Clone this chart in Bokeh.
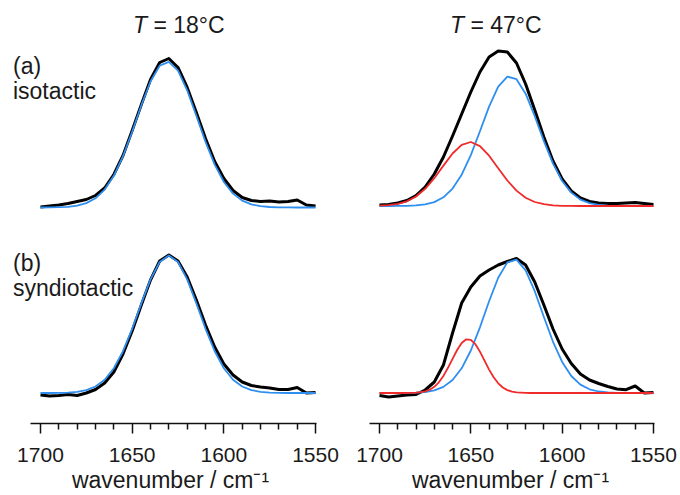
from bokeh.plotting import figure
from bokeh.models import Range1d, FixedTicker, Label, LinearAxis
from bokeh.layouts import gridplot
from bokeh.embed import file_html
from bokeh.resources import INLINE

# ---------------- data (absorbance, arbitrary units) ----------------
wavenumber = [1700, 1695, 1690, 1685, 1680, 1675, 1670, 1665, 1660, 1655, 1650,
              1645, 1640, 1635, 1630, 1625, 1620, 1615, 1610, 1605, 1600, 1595,
              1590, 1585, 1580, 1575, 1570, 1565, 1560, 1555, 1550]

# finer sampling used for the narrow high-frequency component in (b) at 47 C
wavenumber_fine = [1700, 1697.5, 1695, 1692.5, 1690, 1687.5, 1685, 1682.5, 1680, 1677.5,
                   1675, 1672.5, 1670, 1667.5, 1665, 1662.5, 1660, 1657.5, 1655, 1652.5,
                   1650, 1647.5, 1645, 1642.5, 1640, 1637.5, 1635, 1632.5, 1630, 1627.5,
                   1625, 1622.5, 1620, 1617.5, 1615, 1610, 1600, 1590, 1580, 1570, 1560,
                   1550]

# (a) isotactic, T = 18 C
iso18_measured = [0.5, 1.5, 2.5, 4.0, 6.0, 8.0, 12.0, 19.5, 33, 52, 77, 103, 128, 145, 149,
                  140, 120, 95, 69, 46, 29, 17, 10, 7, 6, 6.5, 5.5, 6, 7.5, 2.5, 1.5]
iso18_fit = [0, 0.1, 0.3, 0.7, 1.8, 4.4, 9.2, 17.9, 31.7, 51.3, 75.8, 102.3, 126.0, 141.8,
             145.7, 136.8, 117.2, 91.8, 65.6, 42.8, 25.5, 13.9, 6.9, 3.1, 1.3, 0.5, 0.2,
             0.1, 0, 0, 0]

# (b) syndiotactic, T = 18 C
syn18_measured = [-2, -3, -2.5, -1.5, -2.5, 0, 3.5, 10, 21, 39, 62, 88, 113, 132, 138,
                  132, 116, 93, 68, 46, 29, 18, 11, 7.5, 6, 5, 3.5, 3.5, 5.5, 0, 0.5]
syn18_fit = [0, 0, 0.1, 0.4, 1.2, 2.9, 6.5, 13.3, 24.8, 41.8, 64.2, 89.6, 113.6, 131.1,
             137.5, 131.1, 113.6, 89.6, 64.2, 41.8, 24.8, 13.3, 6.5, 2.9, 1.2, 0.4, 0.1,
             0, 0, 0, 0]

# (a) isotactic, T = 47 C
iso47_measured = [1.0, 1.5, 3, 5.5, 10.5, 19, 32, 49, 70, 92, 114, 134, 149, 155, 154,
                  143, 122, 96, 69, 45, 27, 15, 8, 4.5, 3, 2.5, 2.5, 3, 3.5, 2.5, 1.5]
iso47_fit_low = [0, 0, 0.1, 0.2, 0.6, 1.6, 3.9, 8.7, 17.4, 31.3, 50.9, 74.8, 99.4, 119.3,
                 129.4, 126.8, 112.3, 89.8, 64.9, 42.4, 25.0, 13.4, 6.4, 2.8, 1.1, 0.4,
                 0.1, 0, 0, 0, 0]
iso47_fit_high = [0.3, 0.8, 2.1, 4.7, 9.5, 17.2, 27.8, 40.4, 52.5, 61.2, 64.0, 59.9, 50.3,
                  37.8, 25.5, 15.4, 8.3, 4.0, 1.8, 0.7, 0.2, 0.1, 0, 0, 0, 0, 0, 0, 0, 0, 0]

# (b) syndiotactic, T = 47 C
syn47_measured = [-2.5, -4, -3, -2, -1.5, 3, 11, 28, 60, 90, 106, 117, 123, 128, 131.5,
                  134.5, 128, 111, 88, 64, 44, 29.5, 19, 13, 9.5, 6.5, 4, 3.3, 7, 0, 0.5]
syn47_fit_low = [0, 0, 0, 0.1, 0.3, 1.0, 2.6, 6.1, 13.0, 24.7, 42.5, 65.7, 91.7, 115.3,
                 130.6, 133.4, 122.7, 101.8, 76.0, 51.2, 31.1, 17.0, 8.4, 3.7, 1.5, 0.5,
                 0.2, 0, 0, 0, 0]
syn47_fit_high = [0, 0, 0, 0, 0, 0, 0.1, 0.1, 0.3, 0.8, 1.7, 3.3, 6.2, 10.7, 17.1, 25.2,
                  34.2, 43.0, 50.0, 53.7, 53.2, 48.8, 41.4, 32.4, 23.4, 15.7, 9.7, 5.5,
                  2.9, 1.4, 0.6, 0.3, 0.1, 0, 0, 0, 0, 0, 0, 0, 0, 0]

major_ticks = [1700, 1650, 1600, 1550]
minor_ticks = [1690, 1680, 1670, 1660, 1640, 1630, 1620, 1610, 1590, 1580, 1570, 1560]
titles = ["18°C", "47°C"]
panel_labels = [("(a)", "isotactic"), ("(b)", "syndiotactic")]
x_title = "wavenumber / cm⁻¹"

# ---------------- styling ----------------
FONT = "Liberation Sans"
TXT = "#1a1a1a"
BLACK = "#000000"
BLUE = "#2f8ff0"
RED = "#f02a2a"

x_left = Range1d(1721.8, 1536.4)
x_right = Range1d(1721.35, 1535.2)


def make_fig(height, xr, yr, bottom):
    p = figure(width=340, height=height, x_range=xr, y_range=yr,
               output_backend="svg", toolbar_location=None,
               x_axis_location=None, y_axis_location=None,
               min_border_left=0, min_border_right=0, min_border_top=0,
               min_border_bottom=bottom)
    p.outline_line_color = None
    p.background_fill_color = "white"
    p.border_fill_color = "white"
    p.xgrid.visible = False
    p.ygrid.visible = False
    return p


def add_axis(p):
    ax = LinearAxis(ticker=FixedTicker(ticks=major_ticks, minor_ticks=minor_ticks),
                    bounds=(1549.5, 1705.5))
    ax.axis_line_width = 1.5
    ax.axis_line_color = "#111111"
    ax.major_tick_line_width = 1.5
    ax.minor_tick_line_width = 1.5
    ax.major_tick_line_color = "#111111"
    ax.minor_tick_line_color = "#111111"
    ax.major_tick_out = 10
    ax.major_tick_in = 0
    ax.minor_tick_out = 6
    ax.minor_tick_in = 0
    ax.major_label_text_font = FONT
    ax.major_label_text_font_size = "21px"
    ax.major_label_text_color = TXT
    ax.major_label_standoff = 14
    ax.axis_label = x_title
    ax.axis_label_text_font = FONT
    ax.axis_label_text_font_size = "23px"
    ax.axis_label_text_font_style = "normal"
    ax.axis_label_text_color = TXT
    ax.axis_label_standoff = 2
    p.add_layout(ax, "below")


def draw(p, meas, fits):
    p.line(wavenumber, meas, line_color=BLACK, line_width=3, line_join="round")
    for xs, ys, col in fits:
        p.line(xs, ys, line_color=col, line_width=1.8, line_join="round")


def add_title(p, xsplit, y, temp):
    p.add_layout(Label(x=xsplit, y=y, text="T", text_font=FONT, text_font_size="23px",
                       text_font_style="italic", text_color=TXT,
                       text_align="right", text_baseline="middle"))
    p.add_layout(Label(x=xsplit, y=y, text="\u00a0=\u00a0" + temp, text_font=FONT,
                       text_font_size="23px", text_color=TXT,
                       text_align="left", text_baseline="middle"))


def add_panel_label(p, x, y1, y2, lab):
    p.add_layout(Label(x=x, y=y1, text=lab[0], text_font=FONT, text_font_size="23px",
                       text_color=TXT, text_align="left", text_baseline="middle"))
    p.add_layout(Label(x=x, y=y2, text=lab[1], text_font=FONT, text_font_size="23px",
                       text_color=TXT, text_align="left", text_baseline="middle"))


tl = make_fig(230, x_left, Range1d(-23, 207), 0)
tr = make_fig(230, x_right, Range1d(-24.5, 205.5), 0)
bl = make_fig(265, x_left, Range1d(-30.5, 162.5), 72)
br = make_fig(265, x_right, Range1d(-30.5, 162.5), 72)

draw(tl, iso18_measured, [(wavenumber, iso18_fit, BLUE)])
draw(bl, syn18_measured, [(wavenumber, syn18_fit, BLUE)])
draw(tr, iso47_measured, [(wavenumber, iso47_fit_low, BLUE),
                          (wavenumber, iso47_fit_high, RED)])
draw(br, syn47_measured, [(wavenumber, syn47_fit_low, BLUE),
                          (wavenumber_fine, syn47_fit_high, RED)])

add_axis(bl)
add_axis(br)

add_title(tl, 1641.9, 182.5, titles[0])
add_title(tr, 1653.7, 181.0, titles[1])
add_panel_label(tl, 1715.0, 142, 117, panel_labels[0])
add_panel_label(bl, 1715.0, 130, 105.5, panel_labels[1])

grid = gridplot([[tl, tr], [bl, br]], toolbar_location=None)

open("out.html", "w").write(file_html(grid, INLINE))
